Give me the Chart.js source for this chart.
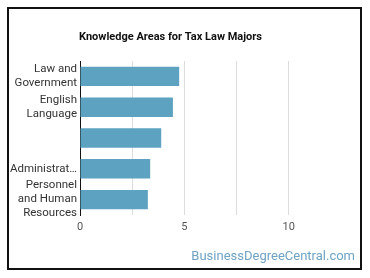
<!DOCTYPE html>
<html>
<head>
<meta charset="utf-8">
<script src="https://cdn.jsdelivr.net/npm/chart.js@4"></script>
<style>
  html, body { margin: 0; padding: 0; background: #fff; }
  #frame { position: absolute; left: 7px; top: 7px; width: 351px; height: 259px; border: 2px solid #111; }
  #wrap { position: absolute; left: 0; top: 0; width: 370px; height: 278px; }
</style>
</head>
<body>
<div id="frame"></div>
<div id="wrap"><canvas id="myChart" width="370" height="278"></canvas></div>
<script>
var chartTitle = 'Knowledge Areas for Tax Law Majors';
var categories = [['Law and', 'Government'], ['English', 'Language'], '', 'Administrat\u2026', ['Personnel', 'and Human', 'Resources']];
var scores = [4.75, 4.45, 3.89, 3.36, 3.25];
var xTicks = [0, 5, 10];
var watermark = 'BusinessDegreeCentral.com';

// title sits over the plot area, watermark bottom right
var textPlugin = {
    id: 'texts',
    afterDraw: function (chart) {
        var ctx = chart.ctx;
        ctx.save();
        ctx.fillStyle = '#111';
        ctx.font = 'bold 11px Roboto';
        ctx.textAlign = 'left';
        ctx.textBaseline = 'middle';
        ctx.fillText(chartTitle, chart.chartArea.left - 1, 37);
        ctx.fillStyle = '#6fa3c2';
        ctx.font = '13px Roboto';
        ctx.textAlign = 'right';
        ctx.textBaseline = 'alphabetic';
        ctx.fillText(watermark, 355, 260);
        ctx.restore();
    }
};

var ctx = document.getElementById('myChart').getContext('2d');
var chart = new Chart(ctx, {
    type: 'bar',
    data: {
        labels: categories,
        datasets: [{
            data: scores,
            backgroundColor: '#5da2c0',
            borderWidth: 0,
            barPercentage: 0.63,
            categoryPercentage: 1
        }]
    },
    options: {
        indexAxis: 'y',
        responsive: false,
        animation: false,
        layout: { padding: { left: 9, right: 29, top: 61, bottom: 43 } },
        plugins: { legend: { display: false }, tooltip: { enabled: false } },
        scales: {
            x: {
                min: 0,
                max: 12.5,
                afterBuildTicks: function (axis) {
                    axis.ticks = [0, 2.5, 5, 7.5, 10, 12.5].map(function (v) { return { value: v }; });
                },
                afterFit: function (axis) { axis.height = 20; },
                border: { display: false },
                grid: {
                    drawTicks: false,
                    color: function (c) {
                        var v = c.tick ? c.tick.value : 0;
                        return (v === 0 || v === 12.5) ? 'rgba(0,0,0,0)' : '#dcdcdc';
                    }
                },
                ticks: {
                    padding: 6,
                    color: '#555',
                    font: { family: 'Roboto', size: 11 },
                    callback: function (v) { return xTicks.indexOf(v) >= 0 ? String(v) : ''; }
                }
            },
            y: {
                afterFit: function (axis) { axis.width = 71; },
                border: { display: true, color: '#111', width: 1 },
                grid: { display: false, drawTicks: false },
                ticks: {
                    autoSkip: false,
                    padding: 3,
                    color: '#333',
                    font: { family: 'Roboto', size: 11.5, lineHeight: '14px' }
                }
            }
        }
    },
    plugins: [textPlugin]
});
</script>
</body>
</html>
